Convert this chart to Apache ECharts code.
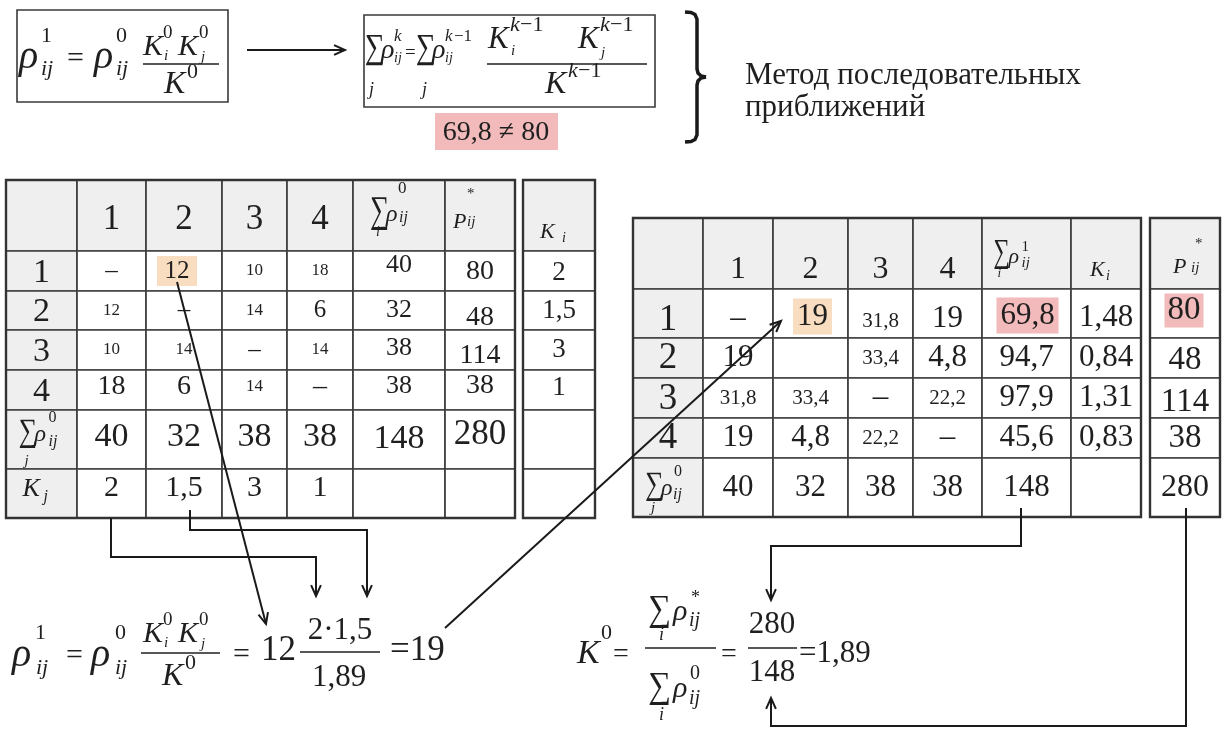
<!DOCTYPE html>
<html><head><meta charset="utf-8">
<script src="https://cdn.jsdelivr.net/npm/echarts@6/dist/echarts.min.js"></script>
<style>html,body{margin:0;padding:0;background:#fff}#c{width:1223px;height:729px}</style>
</head><body><div id="c"></div>
<script>
// ================= DATA =================
const idx = ['1', '2', '3', '4'];
const rho0 = [[null, 12, 10, 18], [12, null, 14, 6], [10, 14, null, 14], [18, 6, 14, null]];
const rowSum0 = [40, 32, 38, 38];
const colSum0 = [40, 32, 38, 38];
const total0 = 148;
const pStar = [80, 48, 114, 38];
const pStarTotal = 280;
const Ki0 = [2, 1.5, 3, 1];
const Kj0 = [2, 1.5, 3, 1];
const rho1 = [[null, 19, 31.8, 19], [19, '', 33.4, 4.8], [31.8, 33.4, null, 22.2], [19, 4.8, 22.2, null]];
const rowSum1 = [69.8, 94.7, 97.9, 45.6];
const Ki1 = [1.48, 0.84, 1.31, 0.83];
const K0 = 1.89;
const methodText = ['Метод последовательных', 'приближений'];

// ================= STYLE / LAYOUT =================
const FONT = '"Liberation Serif", "Times New Roman", serif';
const INK = '#1f1f1f', LINE = '#3f3f3f', GRAY = '#efefef';
const ORANGE = '#f9ddc0', PINK = '#f2baba';
const fmt = v => v === null ? '–' : String(v).replace('.', ',');

function edges(arr) { const e = [0]; arr.forEach(w => e.push(e[e.length - 1] + w)); return e; }
const L1 = { left: 6, top: 180, xe: edges([71, 69, 76, 65, 66, 92, 70]), ye: edges([71, 40, 39, 40, 40, 59, 49]) };
const L1k = { left: 523, top: 180, xe: edges([72]), ye: L1.ye };
const L2 = { left: 633, top: 218, xe: edges([70, 70, 75, 65, 69, 89, 70]), ye: edges([71, 49, 40, 40, 40, 59]) };
const L2p = { left: 1150, top: 218, xe: edges([70]), ye: L2.ye };

// math fragments: [text, dx, baselineOffset, size, italic, scaleY]
const M = {
  sumI0: [['∑', -29, 9, 27, 0, 1.4], ['ρ', -13, 7, 24, 1], ['0', -1, -21, 17], ['ij', 0, 8, 16, 1], ['i', -23, 22, 14, 1]],
  pij: [['P', -27, 14, 22, 1], ['*', -13, -16, 15], ['ij', -13, 12, 15, 1]],
  ki: [['K', -19, 24, 22, 1], ['i', 3, 28, 14, 1]],
  sumJ0: [['∑', -23, 4, 26, 0, 1.25], ['ρ', -7, 3, 24, 1], ['0', 7, -16, 16], ['ij', 7, 8, 16, 1], ['j', -17, 27, 15, 1]],
  kj: [['K', -19, 5, 26, 1], ['j', 2, 9, 16, 1]],
  sumI1: [['∑', -33, 11, 23, 0, 1.45], ['ρ', -18, 11, 22, 1], ['1', -5, -1, 15], ['ij', -5, 15, 15, 1], ['i', -29, 24, 13, 1]],
  ki2: [['K', -16, 24, 22, 1], ['i', 0, 28, 14, 1]],
  pij2: [['P', -12, 21, 22, 1], ['*', 10, -4, 15], ['ij', 6, 20, 15, 1]],
  sumJ0b: [['∑', -23, 9, 26, 0, 1.25], ['ρ', -7, 9, 24, 1], ['0', 6, -10, 16], ['ij', 5, 13, 16, 1], ['j', -17, 26, 15, 1]]
};

// ---- build cells ----
function C(r, c, text, size, o) { return Object.assign({ r, c, text: text === undefined ? '' : text, size: size || 26, dx: 0, dy: 0 }, o || {}); }
const smallL = { '1,3': 1, '1,4': 1, '2,1': 1, '2,3': 1, '3,1': 1, '3,2': 1, '3,4': 1, '4,3': 1 };
const cellsL = [], cellsLk = [], cellsR = [], cellsRp = [];
// left main table
cellsL.push(C(0, 0, '', 0, { gray: 1 }));
idx.forEach((t, j) => cellsL.push(C(0, j + 1, t, 35, { gray: 1, dy: 4 })));
cellsL.push(C(0, 5, '', 0, { gray: 1, math: M.sumI0 }));
cellsL.push(C(0, 6, '', 0, { gray: 1, math: M.pij }));
idx.forEach((t, i) => {
  cellsL.push(C(i + 1, 0, t, 34, { gray: 1, dy: 2 }));
  rho0[i].forEach((v, j) => {
    const small = smallL[(i + 1) + ',' + (j + 1)];
    const o = { dy: i === 3 ? -3 : 0 };
    if (i === 0 && j === 1) Object.assign(o, { hl: ORANGE, hw: 40, hh: 30, dx: -7, hdx: -7 });
    cellsL.push(C(i + 1, j + 1, fmt(v), small ? 17 : (i === 3 ? 28 : 25), o));
  });
  cellsL.push(C(i + 1, 5, fmt(rowSum0[i]), 26, { dy: [-6, 0, -2, -4][i] }));
  cellsL.push(C(i + 1, 6, fmt(pStar[i]), 28, { dy: [1, 7, 6, -4][i] }));
});
cellsL.push(C(5, 0, '', 0, { gray: 1, math: M.sumJ0 }));
colSum0.forEach((v, j) => cellsL.push(C(5, j + 1, fmt(v), 34, { dy: -2 })));
cellsL.push(C(5, 5, fmt(total0), 34));
cellsL.push(C(5, 6, fmt(pStarTotal), 35, { dy: -5 }));
cellsL.push(C(6, 0, '', 0, { gray: 1, math: M.kj }));
Kj0.forEach((v, j) => cellsL.push(C(6, j + 1, fmt(v), 30, { dy: -5 })));
cellsL.push(C(6, 5, '')); cellsL.push(C(6, 6, ''));
// Ki table
cellsLk.push(C(0, 0, '', 0, { gray: 1, math: M.ki }));
Ki0.forEach((v, i) => cellsLk.push(C(i + 1, 0, fmt(v), 27, { dy: [2, 0, 0, -2][i] })));
cellsLk.push(C(5, 0, '')); cellsLk.push(C(6, 0, ''));
// right main table
const smallR = { '1,3': 1, '2,3': 1, '3,1': 1, '3,2': 1, '3,4': 1, '4,3': 1 };
cellsR.push(C(0, 0, '', 0, { gray: 1 }));
idx.forEach((t, j) => cellsR.push(C(0, j + 1, t, 32, { gray: 1, dy: 16 })));
cellsR.push(C(0, 5, '', 0, { gray: 1, math: M.sumI1 }));
cellsR.push(C(0, 6, '', 0, { gray: 1, math: M.ki2 }));
idx.forEach((t, i) => {
  cellsR.push(C(i + 1, 0, t, 37, { gray: 1, dy: [7, 0, 1, 0][i] }));
  rho1[i].forEach((v, j) => {
    const small = smallR[(i + 1) + ',' + (j + 1)];
    const o = { dy: i === 0 ? (small ? 8 : 5) : 0 };
    if (i === 0 && j === 1) Object.assign(o, { hl: ORANGE, hw: 39, hh: 36, dx: 2, hdx: 2, dy: 3 });
    cellsR.push(C(i + 1, j + 1, fmt(v), small ? 21 : 31, o));
  });
  const o5 = { dy: i === 0 ? 2 : 0 };
  if (i === 0) Object.assign(o5, { hl: PINK, hw: 62, hh: 36, dx: 1, hdx: 1 });
  cellsR.push(C(i + 1, 5, fmt(rowSum1[i]), 31, o5));
  cellsR.push(C(i + 1, 6, fmt(Ki1[i]), 31, { dy: i === 0 ? 4 : 0 }));
});
cellsR.push(C(5, 0, '', 0, { gray: 1, math: M.sumJ0b }));
colSum0.forEach((v, j) => cellsR.push(C(5, j + 1, fmt(v), 31)));
cellsR.push(C(5, 5, fmt(total0), 31));
cellsR.push(C(5, 6, ''));
// P table
cellsRp.push(C(0, 0, '', 0, { gray: 1, math: M.pij2 }));
pStar.forEach((v, i) => {
  const o = { dy: [-3, 2, 4, 0][i] };
  if (i === 0) Object.assign(o, { hl: PINK, hw: 39, hh: 34, dx: -1, hdx: -1 });
  cellsRp.push(C(i + 1, 0, fmt(v), 33, o));
});
cellsRp.push(C(5, 0, fmt(pStarTotal), 32));

// ================= HELPERS =================
function fontOf(s, it) { return (it ? 'italic ' : '') + s + 'px ' + FONT; }
function tEl(x, y, t, s, it, align, color, z, sy) {
  return { type: 'text', x: x, y: y, scaleY: sy || 1, silent: true, z: z || 0,
    style: { text: t, font: fontOf(s, it), fill: color || INK, textAlign: align || 'left', textVerticalAlign: 'middle' } };
}
// baseline-positioned text
function bt(x, bl, t, s, it, align, sy) { return tEl(x, bl - 0.34 * s * (sy || 1), t, s, it, align, INK, 50, sy); }

function tableSeries(T, cells, gi) {
  return {
    type: 'custom', coordinateSystem: 'cartesian2d', xAxisIndex: gi, yAxisIndex: gi,
    silent: true, animation: false, clip: false,
    data: cells.map(c => [c.c, c.r]),
    renderItem: function (params, api) {
      const cell = cells[params.dataIndex];
      const p0 = api.coord([T.xe[cell.c], T.ye[cell.r]]);
      const p1 = api.coord([T.xe[cell.c + 1], T.ye[cell.r + 1]]);
      const cx = (p0[0] + p1[0]) / 2, cy = (p0[1] + p1[1]) / 2;
      const ch = [{ type: 'rect', shape: { x: p0[0], y: p0[1], width: p1[0] - p0[0], height: p1[1] - p0[1] },
        style: { fill: cell.gray ? GRAY : '#fff', stroke: LINE, lineWidth: 1.7 } }];
      if (cell.hl) ch.push({ type: 'rect', shape: { x: cx + cell.hdx - cell.hw / 2, y: cy + cell.dy - cell.hh / 2, width: cell.hw, height: cell.hh }, style: { fill: cell.hl } });
      if (cell.math) cell.math.forEach(m => ch.push(tEl(cx + m[1], cy + m[2] - 0.34 * m[3] * (m[5] || 1), m[0], m[3], m[4], 'left', INK, 0, m[5])));
      else if (cell.text !== '') ch.push(tEl(cx + cell.dx, cy + cell.dy, cell.text, cell.size, false, 'center'));
      return { type: 'group', children: ch };
    }
  };
}
function gridOf(T) { return { left: T.left, top: T.top, width: T.xe[T.xe.length - 1], height: T.ye[T.ye.length - 1], containLabel: false }; }
function xAx(T, gi) { return { type: 'value', gridIndex: gi, min: 0, max: T.xe[T.xe.length - 1], show: false }; }
function yAx(T, gi) { return { type: 'value', gridIndex: gi, min: 0, max: T.ye[T.ye.length - 1], inverse: true, show: false }; }
function frame(T) { return { type: 'rect', z: 30, silent: true, shape: { x: T.left, y: T.top, width: T.xe[T.xe.length - 1], height: T.ye[T.ye.length - 1] }, style: { fill: null, stroke: '#333', lineWidth: 2.4 } }; }

function line(pts, w) { return { type: 'polyline', silent: true, z: 60, shape: { points: pts }, style: { stroke: '#1a1a1a', lineWidth: w || 2, fill: null } }; }
function arrow(pts) { // head at last point
  const a = pts[pts.length - 2], b = pts[pts.length - 1];
  const ang = Math.atan2(b[1] - a[1], b[0] - a[0]), Lh = 12, sp = 0.42;
  const head = [[b[0] - Lh * Math.cos(ang - sp), b[1] - Lh * Math.sin(ang - sp)], b, [b[0] - Lh * Math.cos(ang + sp), b[1] - Lh * Math.sin(ang + sp)]];
  return [line(pts), line(head)];
}
function hline(x1, x2, y) { return { type: 'line', silent: true, z: 50, shape: { x1: x1, y1: y, x2: x2, y2: y }, style: { stroke: INK, lineWidth: 1.4 } }; }

// ================= ANNOTATIONS (formulas, arrows) =================
const G = [frame(L1), frame(L1k), frame(L2), frame(L2p)];
// formula 1 box
G.push({ type: 'rect', z: 40, silent: true, shape: { x: 17, y: 10, width: 211, height: 92 }, style: { fill: null, stroke: '#3a3a3a', lineWidth: 1.6 } });
G.push(bt(19, 71, 'ρ', 40, 1), bt(41, 44, '1', 22), bt(41, 77, 'ij', 22, 1), bt(67, 69, '=', 30),
  bt(94, 71, 'ρ', 40, 1), bt(116, 44, '0', 22), bt(116, 77, 'ij', 22, 1),
  bt(143, 57, 'K', 30, 1), bt(163, 39, '0', 19), bt(164, 61, 'i', 15, 1),
  bt(178, 57, 'K', 30, 1), bt(199, 39, '0', 19), bt(201, 62, 'j', 15, 1),
  hline(143, 219, 64), bt(164, 95, 'K', 32, 1), bt(187, 80, '0', 22));
G.push(...arrow([[247, 50], [345, 50]]));
// formula 2 box
G.push({ type: 'rect', z: 40, silent: true, shape: { x: 364, y: 15, width: 291, height: 92 }, style: { fill: null, stroke: '#3a3a3a', lineWidth: 1.6 } });
G.push(bt(365, 61, '∑', 28, 0, 'left', 1.25), bt(369, 96, 'j', 18, 1), bt(381, 60, 'ρ', 28, 1), bt(394, 42, 'k', 17, 1), bt(394, 63, 'ij', 14, 1),
  bt(405, 59, '=', 19),
  bt(416, 61, '∑', 28, 0, 'left', 1.25), bt(422, 96, 'j', 18, 1), bt(432, 60, 'ρ', 28, 1), bt(445, 42, 'k', 17, 1), bt(454, 42, '−1', 17), bt(445, 63, 'ij', 14, 1),
  bt(488, 50, 'K', 31, 1), bt(510, 33, 'k', 22, 1), bt(520, 33, '−1', 22), bt(511, 56, 'i', 15, 1),
  bt(578, 50, 'K', 31, 1), bt(600, 33, 'k', 22, 1), bt(610, 33, '−1', 22), bt(601, 58, 'j', 15, 1),
  hline(487, 647, 64),
  bt(545, 95, 'K', 32, 1), bt(568, 79, 'k', 22, 1), bt(578, 79, '−1', 22));
// pink result box
G.push({ type: 'rect', z: 40, silent: true, shape: { x: 435, y: 113, width: 123, height: 37 }, style: { fill: PINK } });
G.push(bt(496, 142, fmt(rowSum1[0]) + ' ≠ ' + fmt(pStar[0]), 28, 0, 'center'));
// brace
G.push(line([[685, 12], [691, 12.5], [695, 14.5], [697, 19], [697, 69], [698, 73], [701, 76], [706, 77]], 3.5));
G.push(line([[706, 77], [701, 78], [698, 81], [697, 85], [697, 135], [695, 139.5], [691, 141.5], [685, 142]], 3.5));
G.push(bt(745, 86, methodText[0], 31), bt(745, 118, methodText[1], 31));

// bottom-left formula
G.push(bt(12, 669, 'ρ', 40, 1), bt(35, 641, '1', 22), bt(36, 676, 'ij', 22, 1), bt(66, 666, '=', 30),
  bt(91, 669, 'ρ', 40, 1), bt(115, 641, '0', 22), bt(115, 676, 'ij', 22, 1),
  bt(143, 644, 'K', 30, 1), bt(163, 626, '0', 19), bt(164, 648, 'i', 15, 1),
  bt(178, 644, 'K', 30, 1), bt(199, 626, '0', 19), bt(201, 649, 'j', 15, 1),
  hline(141, 220, 653), bt(162, 687, 'K', 32, 1), bt(185, 671, '0', 22),
  bt(233, 665, '=', 30), bt(261, 663, fmt(rho0[0][1]), 35),
  bt(340, 641, fmt(Ki0[0]) + '·' + fmt(Kj0[1]), 31, 0, 'center'), hline(300, 380, 652), bt(339, 688, fmt(K0), 31, 0, 'center'),
  bt(390, 663, '=' + fmt(rho1[0][1]), 35));
// bottom-right formula
G.push(bt(577, 666, 'K', 34, 1), bt(601, 641, '0', 22), bt(613, 664, '=', 28),
  bt(648, 623, '∑', 32, 0, 'left', 1.15), bt(673, 622, 'ρ', 30, 1), bt(691, 604, '*', 18), bt(689, 628, 'ij', 20, 1), bt(659, 641, 'i', 18, 1),
  hline(645, 716, 648),
  bt(648, 700, '∑', 32, 0, 'left', 1.15), bt(673, 699, 'ρ', 30, 1), bt(690, 681, '0', 20), bt(689, 706, 'ij', 20, 1), bt(659, 721, 'i', 18, 1),
  bt(721, 664, '=', 28),
  bt(772, 635, fmt(pStarTotal), 31, 0, 'center'), hline(748, 797, 648), bt(772, 683, fmt(total0), 31, 0, 'center'),
  bt(799, 664, '=' + fmt(K0), 31));

// connecting arrows
G.push(...arrow([[111, 518], [111, 557], [316, 557], [316, 596]]));
G.push(...arrow([[190, 510], [190, 530], [367, 530], [367, 596]]));
G.push(...arrow([[177, 282], [266, 624]]));
G.push(...arrow([[445, 628], [781, 321]]));
G.push(...arrow([[1021, 508], [1021, 546], [771, 546], [771, 600]]));
G.push(...arrow([[1186, 508], [1186, 726], [771, 726], [771, 698]]));

// ================= CHART =================
const chart = echarts.init(document.getElementById('c'), null, { renderer: 'canvas' });
chart.setOption({
  backgroundColor: '#fff',
  animation: false,
  grid: [gridOf(L1), gridOf(L1k), gridOf(L2), gridOf(L2p)],
  xAxis: [xAx(L1, 0), xAx(L1k, 1), xAx(L2, 2), xAx(L2p, 3)],
  yAxis: [yAx(L1, 0), yAx(L1k, 1), yAx(L2, 2), yAx(L2p, 3)],
  series: [tableSeries(L1, cellsL, 0), tableSeries(L1k, cellsLk, 1), tableSeries(L2, cellsR, 2), tableSeries(L2p, cellsRp, 3)],
  graphic: { elements: G }
});
</script></body></html>
